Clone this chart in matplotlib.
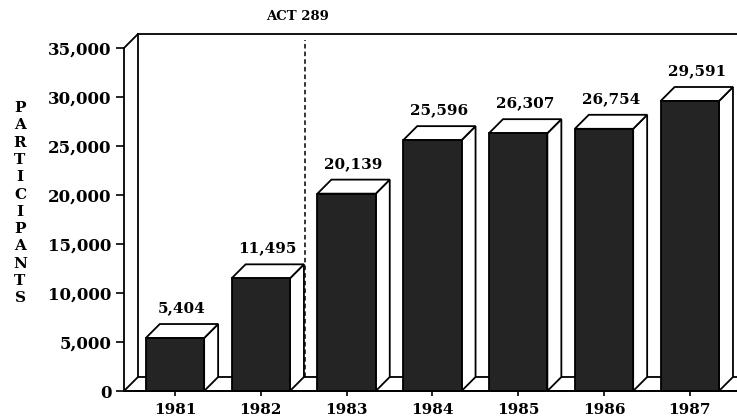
import matplotlib.pyplot as plt
from matplotlib.patches import Polygon

# data
years = ["1981", "1982", "1983", "1984", "1985", "1986", "1987"]
participants = [5404, 11495, 20139, 25596, 26307, 26754, 29591]
yticks = [0, 5000, 10000, 15000, 20000, 25000, 30000, 35000]
act_note = "ACT 289"
ylabel = "PARTICIPANTS"

font = "DejaVu Serif"
dark = "#242424"
lw = 1.3

fig = plt.figure(figsize=(7.37, 4.19), dpi=100)
ax = fig.add_axes([124 / 737, 28 / 419, 613 / 737, 343 / 419])
xmin, xmax = -0.594, 6.55
ymax = 35000
ax.set_xlim(xmin, xmax)
ax.set_ylim(0, ymax)

# 3d depth offsets (about 14 px each way)
dx = 0.163
dy = 1430
w = 0.68

# floor strip and left side wall
floor = Polygon([(xmin, 0), (xmax, 0), (xmax + dx, dy), (xmin + dx, dy)],
                closed=True, facecolor="white", edgecolor="black", lw=lw,
                clip_on=False, zorder=1)
ax.add_patch(floor)
ax.plot([xmin, xmin + dx], [ymax, ymax + dy], color="black", lw=lw, clip_on=False)
ax.plot([xmin + dx, xmin + dx], [dy, ymax + dy], color="black", lw=lw, clip_on=False)
ax.plot([xmin + dx, xmax], [ymax + dy, ymax + dy], color="black", lw=lw, clip_on=False)

# dashed marker between 1982 and 1983
act_x = 1.515
ax.plot([act_x, act_x], [dy, ymax + 800], color="black", lw=1.1, ls=(0, (3, 2)),
        clip_on=False, zorder=2)
ax.text(act_x - 0.09, ymax + 3200, act_note, ha="center", va="center",
        fontsize=9.5, fontweight="bold", family=font)

# bars
for i, v in enumerate(participants):
    x0 = i - w / 2
    x1 = i + w / 2
    side = Polygon([(x1, 0), (x1 + dx, dy), (x1 + dx, v + dy), (x1, v)],
                   closed=True, facecolor="white", edgecolor="black", lw=lw,
                   clip_on=False, zorder=3)
    top = Polygon([(x0, v), (x1, v), (x1 + dx, v + dy), (x0 + dx, v + dy)],
                  closed=True, facecolor="white", edgecolor="black", lw=lw,
                  clip_on=False, zorder=3)
    ax.add_patch(side)
    ax.add_patch(top)
    ax.bar(i, v, width=w, color=dark, edgecolor="black", lw=lw, zorder=4)
    ax.text(i + dx / 2, v + dy + 900, f"{v:,}", ha="center", va="bottom",
            fontsize=11, fontweight="bold", family=font)

# axes
for s in ["top", "right"]:
    ax.spines[s].set_visible(False)
ax.spines["left"].set_linewidth(lw)
ax.spines["bottom"].set_linewidth(lw)
ax.spines["bottom"].set_zorder(5)
ax.set_yticks(yticks)
ax.set_yticklabels([f"{t:,}" for t in yticks], fontsize=12, fontweight="bold",
                   family=font)
ax.set_xticks(range(len(years)))
ax.set_xticklabels(years, fontsize=11, fontweight="bold", family=font)
ax.tick_params(axis="y", direction="out", length=6, width=1.2, pad=3)
ax.tick_params(axis="x", direction="out", length=3.6, width=1.2, pad=5)
ax.patch.set_alpha(0)

# stacked vertical axis title
for k, ch in enumerate(ylabel):
    fig.text(20 / 737, 1 - (108 + k * 17.3) / 419, ch, ha="center", va="center",
             fontsize=11, fontweight="bold", family=font)

fig.savefig("out.png", dpi=100)
